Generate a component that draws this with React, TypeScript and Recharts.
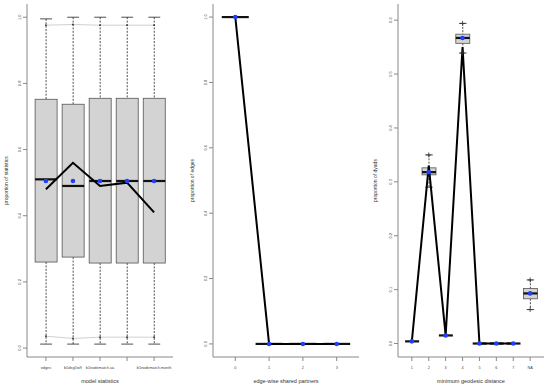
import React from 'react'
import { ComposedChart, Bar, Line, XAxis, YAxis } from 'recharts'

const FONT = '"Liberation Sans", Arial, sans-serif'

// panel 1: model statistics
const statCats = ['edges', 'b1deg5to9', 'b1nodematch.ua', 'b1nodematch.year', 'b1nodematch.month']
const statLo = [0.012, 0.012, 0.012, 0.012, 0.012]
const statQ1 = [0.26, 0.275, 0.257, 0.257, 0.257]
const statMed = [0.51, 0.49, 0.505, 0.505, 0.505]
const statQ3 = [0.752, 0.737, 0.755, 0.755, 0.755]
const statHi = [0.995, 1.0, 1.0, 1.0, 1.0]
const statObs = [0.48, 0.56, 0.49, 0.5, 0.41]
const statMean = [0.505, 0.505, 0.505, 0.505, 0.505]
const statQLo = [0.036, 0.029, 0.033, 0.033, 0.033]
const statQHi = [0.976, 0.978, 0.976, 0.976, 0.976]
const statTicks = [0, 0.2, 0.4, 0.6, 0.8, 1.0]

// panel 2: edge-wise shared partners
const espCats = ['0', '1', '2', '3']
const espLo = [1, 0, 0, 0]
const espQ1 = [1, 0, 0, 0]
const espMed = [1, 0, 0, 0]
const espQ3 = [1, 0, 0, 0]
const espHi = [1, 0, 0, 0]
const espObs = [1, 0, 0, 0]
const espMean = [1, 0, 0, 0]
const espTicks = [0, 0.2, 0.4, 0.6, 0.8, 1.0]

// panel 3: minimum geodesic distance
const distCats = ['1', '2', '3', '4', '5', '6', '7', 'NA']
const distLo = [0.004, 0.29, 0.015, 0.539, 0, 0, 0, 0.063]
const distQ1 = [0.004, 0.313, 0.015, 0.557, 0, 0, 0, 0.083]
const distMed = [0.004, 0.318, 0.015, 0.567, 0, 0, 0, 0.093]
const distQ3 = [0.004, 0.326, 0.015, 0.574, 0, 0, 0, 0.102]
const distHi = [0.004, 0.35, 0.015, 0.594, 0, 0, 0, 0.118]
const distObs = [0.004, 0.33, 0.015, 0.55, 0, 0, 0, null]
const distMean = [0.004, 0.318, 0.015, 0.567, 0, 0, 0, 0.093]
const distQLo = [null, null, null, 0.539, null, null, null, 0.063]
const distQHi = [null, 0.35, null, 0.594, null, null, null, 0.118]
const distTicks = [0, 0.1, 0.2, 0.3, 0.4, 0.5, 0.6]

type Row = {
  cat: string
  range: [number, number]
  q1: number
  med: number
  q3: number
  obs: number | null
  mean: number
  qlo: number | null
  qhi: number | null
}

function buildRows(
  cats: string[], lo: number[], q1: number[], med: number[], q3: number[], hi: number[],
  obs: (number | null)[], mean: number[], qlo?: (number | null)[], qhi?: (number | null)[],
): Row[] {
  return cats.map((cat, i) => ({
    cat,
    range: [lo[i], hi[i]],
    q1: q1[i],
    med: med[i],
    q3: q3[i],
    obs: obs[i],
    mean: mean[i],
    qlo: qlo ? qlo[i] : null,
    qhi: qhi ? qhi[i] : null,
  }))
}

const statRows = buildRows(statCats, statLo, statQ1, statMed, statQ3, statHi, statObs, statMean, statQLo, statQHi)
const espRows = buildRows(espCats, espLo, espQ1, espMed, espQ3, espHi, espObs, espMean)
const distRows = buildRows(distCats, distLo, distQ1, distMed, distQ3, distHi, distObs, distMean, distQLo, distQHi)

// box + whiskers, positioned from the range bar Recharts gives us
const BoxShape = (props: any) => {
  const { x, y, width, height, payload } = props
  if (x == null || y == null) return <g />
  const top = Math.min(y, y + height)
  const bot = Math.max(y, y + height)
  const [lo, hi] = payload.range
  const pix = (v: number) => (hi === lo ? top : top + ((bot - top) * (hi - v)) / (hi - lo))
  const cx = x + width / 2
  const y1 = pix(payload.q1)
  const y3 = pix(payload.q3)
  const ym = pix(payload.med)
  const cap = width * 0.27
  return (
    <g>
      {bot - top > 0.5 && (
        <g stroke="#222" strokeWidth={0.8}>
          <line x1={cx} x2={cx} y1={top} y2={y3} strokeDasharray="2 1.4" />
          <line x1={cx} x2={cx} y1={y1} y2={bot} strokeDasharray="2 1.4" />
          <line x1={cx - cap} x2={cx + cap} y1={top} y2={top} />
          <line x1={cx - cap} x2={cx + cap} y1={bot} y2={bot} />
        </g>
      )}
      {y1 - y3 > 0.5 && (
        <rect x={x} y={y3} width={width} height={y1 - y3} fill="#d3d3d3" stroke="#555" strokeWidth={0.8} />
      )}
      <line x1={x} x2={x + width} y1={ym} y2={ym} stroke="#111" strokeWidth={2.2} />
    </g>
  )
}

const MeanDot = (p: any) =>
  p.cx == null || p.cy == null || p.value == null ? <g key={p.index} /> : (
    <circle key={p.index} cx={p.cx} cy={p.cy} r={2.3} fill="#1f3fff" />
  )

const SmallDot = (p: any) =>
  p.cx == null || p.cy == null || p.value == null ? <g key={p.index} /> : (
    <circle key={p.index} cx={p.cx} cy={p.cy} r={0.9} fill="#333" />
  )

const PlusDot = (p: any) =>
  p.cx == null || p.cy == null || p.value == null ? <g key={p.index} /> : (
    <g key={p.index} stroke="#333" strokeWidth={0.8}>
      <line x1={p.cx - 2.5} x2={p.cx + 2.5} y1={p.cy} y2={p.cy} />
      <line x1={p.cx} x2={p.cx} y1={p.cy - 2.5} y2={p.cy + 2.5} />
    </g>
  )

const YTick = (p: any) => {
  const tx = p.x - 1.5
  const ty = p.y
  return (
    <text
      x={tx}
      y={ty}
      transform={`rotate(-90 ${tx} ${ty})`}
      textAnchor="middle"
      fontSize={4}
      fill="#444"
      fontFamily={FONT}
    >
      {p.payload.value.toFixed(1)}
    </text>
  )
}

type PanelProps = {
  left: number
  width: number
  yWidth: number
  right: number
  rows: Row[]
  domain: [number, number]
  ticks: number[]
  xTitle: string
  yTitle: string
  yTitleOffset: number
  quant?: 'line' | 'plus'
  hideTick?: number[]
}

function Panel({ left, width, yWidth, right, rows, domain, ticks, xTitle, yTitle, yTitleOffset, quant, hideTick }: PanelProps) {
  return (
    <div style={{ position: 'absolute', left, top: 0 }}>
      <ComposedChart
        width={width}
        height={386}
        data={rows}
        margin={{ top: 4, right, bottom: 0, left: 0 }}
        barCategoryGap="10%"
      >
        <XAxis
          dataKey="cat"
          padding={{ left: 5.4, right: 5.4 }}
          height={29}
          tickSize={4}
          tickMargin={5}
          stroke="#888"
          interval={0}
          tick={{ fontSize: 3.8, fill: '#444', fontFamily: FONT }}
          tickFormatter={(v: string, i: number) => (hideTick && hideTick.includes(i) ? '' : v)}
          label={{ value: xTitle, position: 'insideBottom', offset: 3, fontSize: 5.5, fill: '#333', fontFamily: FONT }}
        />
        <XAxis xAxisId="top" orientation="top" height={0} tick={false} tickLine={false} stroke="#888" />
        <YAxis
          type="number"
          domain={domain}
          allowDataOverflow
          ticks={ticks}
          width={yWidth}
          tickSize={4}
          tickMargin={0}
          stroke="#888"
          tick={YTick}
          label={{
            value: yTitle,
            angle: -90,
            position: 'insideLeft',
            offset: yTitleOffset,
            fontSize: 5,
            fill: '#333',
            fontFamily: FONT,
            style: { textAnchor: 'middle' },
          }}
        />
        <YAxis yAxisId="right" orientation="right" width={0} tick={false} tickLine={false} stroke="#888" />
        <Bar dataKey="range" shape={BoxShape} isAnimationActive={false} />
        {quant === 'line' && (
          <Line dataKey="qhi" stroke="#bbb" strokeWidth={0.7} dot={SmallDot} isAnimationActive={false} />
        )}
        {quant === 'line' && (
          <Line dataKey="qlo" stroke="#bbb" strokeWidth={0.7} dot={SmallDot} isAnimationActive={false} />
        )}
        {quant === 'plus' && <Line dataKey="qhi" stroke="none" dot={PlusDot} isAnimationActive={false} />}
        {quant === 'plus' && <Line dataKey="qlo" stroke="none" dot={PlusDot} isAnimationActive={false} />}
        <Line dataKey="obs" stroke="#000" strokeWidth={2} dot={false} isAnimationActive={false} />
        <Line dataKey="mean" stroke="none" dot={MeanDot} isAnimationActive={false} />
      </ComposedChart>
    </div>
  )
}

export default function App() {
  return (
    <div style={{ position: 'absolute', left: 0, top: 0, width: 550, height: 386, background: '#fff' }}>
      <Panel
        left={0}
        width={183}
        yWidth={27}
        right={10}
        rows={statRows}
        domain={[-0.027, 1.04]}
        ticks={statTicks}
        xTitle="model statistics"
        yTitle="proportion of statistics"
        yTitleOffset={6}
        quant="line"
        hideTick={[3]}
      />
      <Panel
        left={183}
        width={183}
        yWidth={30}
        right={7}
        rows={espRows}
        domain={[-0.04, 1.04]}
        ticks={espTicks}
        xTitle="edge-wise shared partners"
        yTitle="proportion of edges"
        yTitleOffset={9}
      />
      <Panel
        left={366}
        width={184}
        yWidth={32}
        right={6}
        rows={distRows}
        domain={[-0.025, 0.63]}
        ticks={distTicks}
        xTitle="minimum geodesic distance"
        yTitle="proportion of dyads"
        yTitleOffset={9}
        quant="plus"
      />
    </div>
  )
}
